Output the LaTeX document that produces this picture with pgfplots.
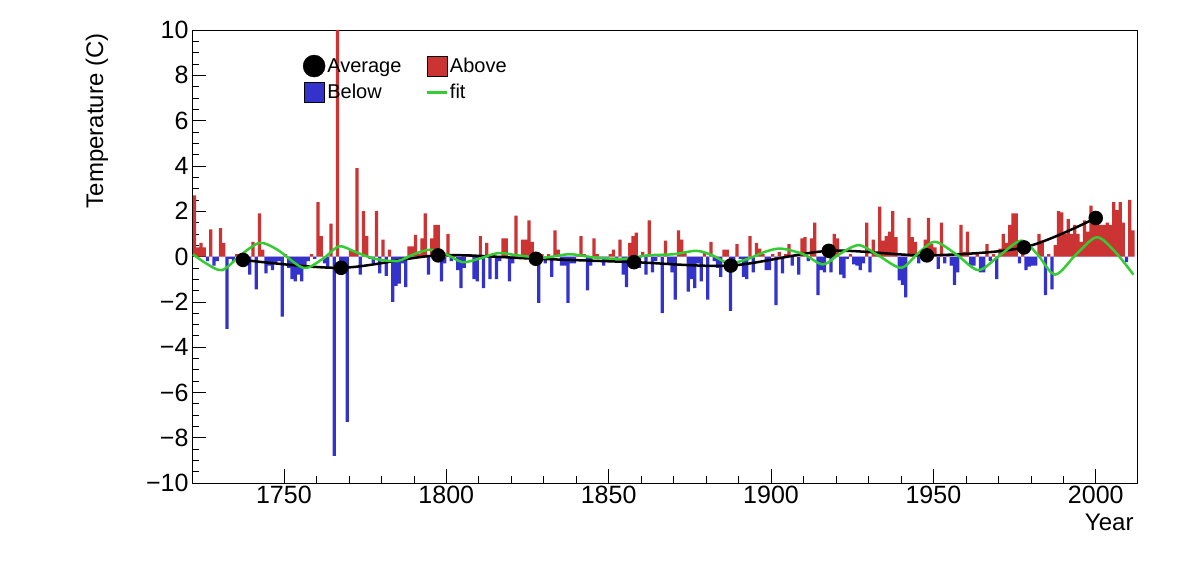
\documentclass[border=0pt]{standalone}
\usepackage{pgfplots}
\pgfplotsset{compat=1.18}
\usepackage{pgfplotstable}
\usepackage{fontspec}
\setmainfont{Liberation Sans}
\definecolor{redc}{RGB}{204,51,51}
\definecolor{bluec}{RGB}{51,51,204}
\definecolor{greenc}{RGB}{51,204,51}
\pgfplotstableread{
y v
1722 2.7
1723 0.4
1724 0.6
1725 0.4
1726 -0.2
1727 1.2
1728 -0.4
1729 -0.2
1730 1.25
1731 0.6
1732 -3.2
1733 -0.1
1734 -0.2
1735 0.1
1736 -0.1
1737 -0.2
1738 -0.3
1739 -0.8
1740 0.65
1741 -1.45
1742 1.9
1743 0.3
1744 -0.75
1745 -0.4
1746 -0.6
1747 -0.3
1748 -0.2
1749 -2.65
1750 0.1
1751 -0.5
1752 -1.0
1753 -1.1
1754 -0.8
1755 -1.1
1756 -0.5
1757 -0.2
1758 0.1
1759 -0.1
1760 2.4
1761 0.9
1762 -0.3
1763 -0.5
1764 1.45
1765 -8.8
1766 10
1767 -0.5
1768 -0.6
1769 -7.3
1770 0.3
1771 0.2
1772 3.9
1773 -0.8
1774 2.0
1775 0.9
1776 -0.1
1777 -0.3
1778 2.0
1779 -0.75
1780 0.75
1781 -0.85
1782 0.3
1783 -2.0
1784 -1.3
1785 -1.2
1786 -0.3
1787 -1.35
1788 0.45
1789 0.45
1790 0.95
1791 0.1
1792 0.8
1793 1.9
1794 -0.8
1795 0.8
1796 1.4
1797 1.4
1798 -1.1
1799 -0.3
1800 1.0
1801 -0.2
1802 0.1
1803 -0.6
1804 -1.4
1805 -0.5
1806 0.1
1807 0.1
1808 -1.0
1809 -1.1
1810 0.9
1811 -1.4
1812 0.6
1813 -1.0
1814 0.1
1815 -1.0
1816 -0.2
1817 0.8
1818 0.8
1819 -1.1
1820 -0.3
1821 1.8
1822 -0.1
1823 0.75
1824 0.75
1825 1.6
1826 0.65
1827 -0.2
1828 -2.05
1829 0.1
1830 -0.3
1831 0.1
1832 -0.9
1833 1.15
1834 0.3
1835 -0.4
1836 -0.4
1837 -2.05
1838 -0.3
1839 -0.3
1840 0.1
1841 0.9
1842 0.1
1843 -1.5
1844 -0.4
1845 0.8
1846 0.1
1847 -0.1
1848 -0.4
1849 -0.2
1850 0.1
1851 0.3
1852 -0.1
1853 0.75
1854 -0.8
1855 -1.35
1856 0.6
1857 0.9
1858 1.05
1859 -0.5
1860 0.2
1861 -0.8
1862 1.6
1863 -0.7
1864 -0.2
1865 0.1
1866 -2.5
1867 0.7
1868 -0.3
1869 -0.7
1870 -1.9
1871 1.15
1872 0.75
1873 0.2
1874 -1.55
1875 -1.0
1876 -1.4
1877 -0.3
1878 -1.1
1879 0.2
1880 -1.9
1881 0.65
1882 -0.2
1883 -0.5
1884 -0.9
1885 0.3
1886 0.3
1887 -2.4
1888 -0.2
1889 0.55
1890 -0.1
1891 -0.9
1892 -1.0
1893 0.9
1894 -0.7
1895 0.6
1896 0.35
1897 0.1
1898 -0.6
1899 -0.6
1900 0.1
1901 -2.15
1902 0.2
1903 -0.75
1904 0.1
1905 0.55
1906 -0.4
1907 0.1
1908 -0.8
1909 0.8
1910 0.85
1911 -0.2
1912 0.8
1913 1.5
1914 -1.7
1915 -0.6
1916 -0.7
1917 0.1
1918 -0.7
1919 1.0
1920 0.8
1921 -0.8
1922 -0.95
1923 -0.1
1924 0.1
1925 -0.35
1926 -0.4
1927 -0.6
1928 -0.3
1929 1.5
1930 -0.7
1931 0.75
1932 0.1
1933 2.2
1934 0.7
1935 0.9
1936 1.1
1937 2.0
1938 0.85
1939 -1.05
1940 -1.25
1941 -1.8
1942 1.7
1943 0.85
1944 0.65
1945 -0.3
1946 0.1
1947 0.75
1948 1.7
1949 0.55
1950 0.4
1951 -0.55
1952 1.5
1953 -0.3
1954 0.1
1955 -0.4
1956 -1.25
1957 -0.7
1958 1.4
1959 0.2
1960 1.1
1961 -0.4
1962 -0.4
1963 0.1
1964 -0.7
1965 -0.7
1966 0.55
1967 -0.2
1968 0.1
1969 -1.0
1970 0.35
1971 1.0
1972 0.6
1973 1.4
1974 1.9
1975 1.9
1976 -0.3
1977 0.7
1978 -0.6
1979 -0.45
1980 -0.4
1981 -0.4
1982 1.0
1983 0.7
1984 -1.7
1985 0.1
1986 -1.45
1987 0.5
1988 2.0
1989 1.95
1990 1.0
1991 1.65
1992 1.0
1993 1.4
1994 1.0
1995 0.65
1996 1.6
1997 1.1
1998 2.25
1999 1.75
2000 1.5
2001 1.4
2002 1.4
2003 1.5
2004 1.4
2005 2.4
2006 2.05
2007 2.4
2008 1.5
2009 -0.25
2010 2.5
2011 1.15
}\temps
\begin{document}
\begin{tikzpicture}
\useasboundingbox (-192pt,-93pt) rectangle (1006pt,483pt);
\begin{axis}[
  at={(0,0)}, anchor=south west,
  scale only axis, width=945pt, height=453pt,
  xmin=1721.7, xmax=2012.7, ymin=-10, ymax=10,
  xtick={1750,1800,...,2000}, ytick={-10,-8,...,10},
  yticklabels={−10,−8,−6,−4,−2,0,2,4,6,8,10},
  minor x tick num=4, minor y tick num=3,
  tick align=inside, xtick pos=bottom, ytick pos=left,
  major tick length=14pt, minor tick length=7pt,
  tick style={black, line width=0.6pt},
  axis line style={line width=0.6pt},
  /pgf/number format/assume math mode=true,
  /pgf/number format/1000 sep={},
  tick label style={font=\fontsize{25}{28}\selectfont},
  xlabel={Year}, ylabel={Temperature (C)},
  label style={font=\fontsize{24}{28}\selectfont},
  xlabel style={at={(axis description cs:1,-0.06)}, anchor=north east},
  ylabel style={at={(axis description cs:-0.085,1)}, anchor=south east},
  legend columns=2,
  legend style={draw=none, fill=none, at={(axis description cs:0.114,0.95)}, anchor=north west,
    font=\fontsize{20}{24}\selectfont, row sep=5pt,
    /tikz/every even column/.append style={column sep=22pt}},
  legend cell align=left,
]
\addplot[ybar, bar width=1, fill=redc, draw=none, forget plot]
  table[x expr=\thisrow{y}+0.5, y expr={max(\thisrow{v},0)}] {\temps};
\addplot[ybar, bar width=1, fill=bluec, draw=none, forget plot]
  table[x expr=\thisrow{y}+0.5, y expr={min(\thisrow{v},0)}] {\temps};
\addplot[black, line width=2.5pt, smooth, mark=*, mark size=6pt, forget plot] coordinates {
(1737.4,-0.15) (1767.6,-0.5) (1797.5,0.05) (1827.6,-0.1) (1857.8,-0.25)
(1887.6,-0.4) (1917.8,0.25) (1948,0.05) (1977.9,0.4) (2000,1.7)};
\addplot[greenc, line width=2.5pt, smooth, forget plot] coordinates {
(1722,0.1) (1726,-0.3) (1731,-0.6) (1737,0.1) (1742.6,0.6) (1748,0.3) (1756,-0.5)
(1762,-0.1) (1767,0.45) (1772,0.2) (1778,-0.1) (1785,-0.2) (1790,0.1) (1795,0.3)
(1800,0.1) (1805,-0.25) (1810,-0.1) (1816,0.15) (1822,0.05) (1830,-0.05) (1838,0.1)
(1846,-0.05) (1855,-0.1) (1862,0.05) (1870,0.1) (1877,0.25) (1882,0.05) (1887,-0.3)
(1893,-0.1) (1898,0.2) (1903,0.35) (1910,0.1) (1916,-0.35) (1921,0.1) (1927,0.5)
(1933,0.05) (1940,-0.5) (1945,0.1) (1950.4,0.65) (1957,0.1) (1963.8,-0.6) (1970,0)
(1977,0.7) (1982,0.1) (1987.5,-0.8) (1994,0.1) (2000.3,0.85) (2006,0.2) (2011.6,-0.8)};
\addlegendimage{legend image code/.code={\fill[black] (10pt,0pt) circle (11pt);}}
\addlegendentry{Average}
\addlegendimage{legend image code/.code={\draw[fill=redc,draw=black] (0pt,-10pt) rectangle (20pt,10pt);}}
\addlegendentry{Above}
\addlegendimage{legend image code/.code={\draw[fill=bluec,draw=black] (0pt,-10pt) rectangle (20pt,10pt);}}
\addlegendentry{Below}
\addlegendimage{legend image code/.code={\draw[greenc, line width=2.5pt] (0pt,0pt) -- (20pt,0pt);}}
\addlegendentry{fit}
\end{axis}
\end{tikzpicture}
\end{document}
